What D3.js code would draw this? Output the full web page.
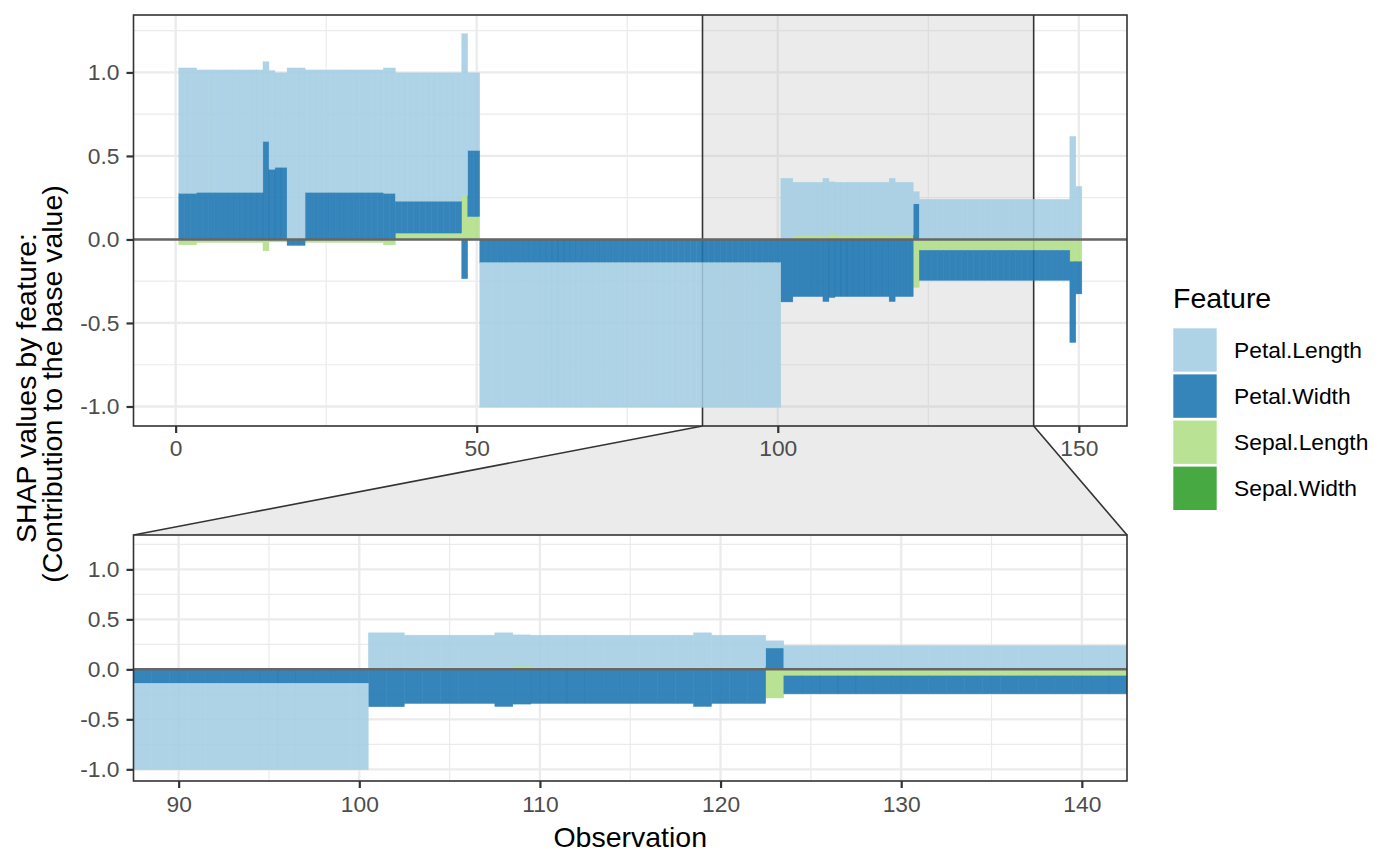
<!DOCTYPE html>
<html><head><meta charset="utf-8">
<script src="https://cdn.jsdelivr.net/npm/d3@7"></script>
<style>
body{margin:0;background:#fff}
text{font-family:"Liberation Sans",Arial,Helvetica,sans-serif}
</style>
</head><body>
<svg id="chart" width="1400" height="866" xmlns="http://www.w3.org/2000/svg"></svg>
<script>
// ---------------- DATA ----------------
const features = ["Petal.Length","Petal.Width","Sepal.Length","Sepal.Width"];
const featureColors = ["#A6CEE3","#1F78B4","#B2DF8A","#33A02C"];
const observationIds = d3.range(1, 151);

const petalLength = [
  0.751,0.751,0.751,0.733,0.733,0.733,0.733,0.733,0.733,0.733,
  0.733,0.733,0.733,0.733,0.477,0.591,0.566,0.566,1.027,1.027,
  1.027,0.733,0.733,0.733,0.733,0.733,0.733,0.733,0.733,0.733,
  0.733,0.733,0.733,0.733,0.751,0.751,0.769,0.769,0.769,0.769,
  0.769,0.769,0.769,0.769,0.769,0.769,0.769,0.969,0.465,0.465,
  -0.866,-0.866,-0.866,-0.866,-0.866,-0.866,-0.866,-0.866,-0.866,-0.866,
  -0.866,-0.866,-0.866,-0.866,-0.866,-0.866,-0.866,-0.866,-0.866,-0.866,
  -0.866,-0.866,-0.866,-0.866,-0.866,-0.866,-0.866,-0.866,-0.866,-0.866,
  -0.866,-0.866,-0.866,-0.866,-0.866,-0.866,-0.866,-0.866,-0.866,-0.866,
  -0.866,-0.866,-0.866,-0.866,-0.866,-0.866,-0.866,-0.866,-0.866,-0.866,
  0.366,0.366,0.316,0.316,0.316,0.316,0.316,0.346,0.312,0.316,
  0.316,0.316,0.316,0.316,0.316,0.316,0.316,0.316,0.346,0.316,
  0.316,0.316,0.073,0.240,0.240,0.240,0.240,0.240,0.240,0.240,
  0.240,0.240,0.240,0.240,0.240,0.240,0.240,0.240,0.240,0.240,
  0.240,0.240,0.240,0.240,0.240,0.240,0.240,0.240,0.617,0.318
];
const petalWidth = [
  0.276,0.276,0.276,0.282,0.282,0.282,0.282,0.282,0.282,0.282,
  0.282,0.282,0.282,0.282,0.587,0.420,0.432,0.432,-0.032,-0.032,
  -0.032,0.282,0.282,0.282,0.282,0.282,0.282,0.282,0.282,0.282,
  0.282,0.282,0.282,0.282,0.276,0.276,0.191,0.191,0.191,0.191,
  0.191,0.191,0.191,0.191,0.191,0.191,0.191,-0.235,0.396,0.396,
  -0.137,-0.137,-0.137,-0.137,-0.137,-0.137,-0.137,-0.137,-0.137,-0.137,
  -0.137,-0.137,-0.137,-0.137,-0.137,-0.137,-0.137,-0.137,-0.137,-0.137,
  -0.137,-0.137,-0.137,-0.137,-0.137,-0.137,-0.137,-0.137,-0.137,-0.137,
  -0.137,-0.137,-0.137,-0.137,-0.137,-0.137,-0.137,-0.137,-0.137,-0.137,
  -0.137,-0.137,-0.137,-0.137,-0.137,-0.137,-0.137,-0.137,-0.137,-0.137,
  -0.372,-0.372,-0.342,-0.342,-0.342,-0.342,-0.342,-0.372,-0.348,-0.342,
  -0.342,-0.342,-0.342,-0.342,-0.342,-0.342,-0.342,-0.342,-0.372,-0.342,
  -0.342,-0.342,0.213,-0.180,-0.180,-0.180,-0.180,-0.180,-0.180,-0.180,
  -0.180,-0.180,-0.180,-0.180,-0.180,-0.180,-0.180,-0.180,-0.180,-0.180,
  -0.180,-0.180,-0.180,-0.180,-0.180,-0.180,-0.180,-0.180,-0.484,-0.193
];
const sepalLength = [
  -0.032,-0.032,-0.032,-0.018,-0.018,-0.018,-0.018,-0.018,-0.018,-0.018,
  -0.018,-0.018,-0.018,-0.018,-0.068,-0.015,-0.015,-0.015,-0.004,-0.004,
  -0.004,-0.018,-0.018,-0.018,-0.018,-0.018,-0.018,-0.018,-0.018,-0.018,
  -0.018,-0.018,-0.018,-0.018,-0.032,-0.032,0.038,0.038,0.038,0.038,
  0.038,0.038,0.038,0.038,0.038,0.038,0.038,0.263,0.137,0.137,
  -0.002,-0.002,-0.002,-0.002,-0.002,-0.002,-0.002,-0.002,-0.002,-0.002,
  -0.002,-0.002,-0.002,-0.002,-0.002,-0.002,-0.002,-0.002,-0.002,-0.002,
  -0.002,-0.002,-0.002,-0.002,-0.002,-0.002,-0.002,-0.002,-0.002,-0.002,
  -0.002,-0.002,-0.002,-0.002,-0.002,-0.002,-0.002,-0.002,-0.002,-0.002,
  -0.002,-0.002,-0.002,-0.002,-0.002,-0.002,-0.002,-0.002,-0.002,-0.002,
  -0.002,-0.002,0.026,0.026,0.026,0.026,0.026,0.020,0.033,0.026,
  0.026,0.026,0.026,0.026,0.026,0.026,0.026,0.026,0.020,0.026,
  0.026,0.026,-0.287,-0.065,-0.065,-0.065,-0.065,-0.065,-0.065,-0.065,
  -0.065,-0.065,-0.065,-0.065,-0.065,-0.065,-0.065,-0.065,-0.065,-0.065,
  -0.065,-0.065,-0.065,-0.065,-0.065,-0.065,-0.065,-0.065,-0.133,-0.133
];
const sepalWidth = [
  0,0,0,0,0,0,0,0,0,0, 0,0,0,0,0,0,0,0,0,0, 0,0,0,0,0,0,0,0,0,0,
  0,0,0,0,0,0,0,0,0,0, 0,0,0,0,0,0,0,0,0,0, 0,0,0,0,0,0,0,0,0,0,
  0,0,0,0,0,0,0,0,0,0, 0,0,0,0,0,0,0,0,0,0, 0,0,0,0,0,0,0,0,0,0,
  0,0,0,0,0,0,0,0,0,0, 0,0,0,0,0,0,0,0,0,0, 0,0,0,0,0,0,0,0,0,0,
  0,0,0,0,0,0,0,0,0,0, 0,0,0,0,0,0,0,0,0,0, 0,0,0,0,0,0,0,0,0,0
];

const topXTicks = [0, 50, 100, 150];
const topXMinor = [25, 75, 125];
const zoomXTicks = [90, 100, 110, 120, 130, 140];
const zoomXMinor = [95, 105, 115, 125, 135];
const yTicks = [-1.0, -0.5, 0.0, 0.5, 1.0];
const yMinor = [-0.75, -0.25, 0.25, 0.75, 1.25];
const zoomRange = [87.5, 142.5];

const xTitle = "Observation";
const yTitleLines = ["SHAP values by feature:", " (Contribution to the base value)"];
const legendTitle = "Feature";

// ---------------- BUILD ----------------
const seriesValues = {"Petal.Length": petalLength, "Petal.Width": petalWidth,
                      "Sepal.Length": sepalLength, "Sepal.Width": sepalWidth};
const rows = observationIds.map((id, i) => {
  const r = {id};
  features.forEach(f => r[f] = seriesValues[f][i]);
  return r;
});
const color = d3.scaleOrdinal().domain(features).range(featureColors);
// ggplot position_stack: first factor level farthest from zero
const stackKeys = features.slice().reverse();
const stacked = d3.stack().keys(stackKeys).offset(d3.stackOffsetDiverging)(rows);

const svg = d3.select("#chart");
const FONT_TICK = 22.8, FONT_TITLE = 28.5;
const GRID = "#ebebeb", DARK = "#333333";

const L = 133.5, R = 1127;
const topP = {x0: L, x1: R, y0: 15, y1: 426};
const botP = {x0: L, x1: R, y0: 535, y1: 781};

const allVals = [];
stacked.forEach(s => s.forEach(d => { allVals.push(d[0], d[1]); }));
const yMin = d3.min(allVals), yMax = d3.max(allVals);
const yPad = (yMax - yMin) * 0.05;
const yDomain = [yMin - yPad, yMax + yPad];
const xPad = (150.5 - 0.5) * 0.05;

const xTop = d3.scaleLinear().domain([0.5 - xPad, 150.5 + xPad]).range([topP.x0, topP.x1]);
const yTop = d3.scaleLinear().domain(yDomain).range([topP.y1, topP.y0]);
const xBot = d3.scaleLinear().domain(zoomRange).range([botP.x0, botP.x1]);
const yBot = d3.scaleLinear().domain(yDomain).range([botP.y1, botP.y0]);

const shadeFill = "#bebebe", shadeOpacity = 0.3;

// trapezoid between panels
const zx0 = xTop(zoomRange[0]), zx1 = xTop(zoomRange[1]);
svg.append("polygon")
  .attr("points", [[zx0, topP.y1], [zx1, topP.y1], [botP.x1, botP.y0], [botP.x0, botP.y0]].map(p => p.join(",")).join(" "))
  .attr("fill", shadeFill).attr("fill-opacity", shadeOpacity);
svg.append("line").attr("x1", zx0).attr("y1", topP.y1).attr("x2", botP.x0).attr("y2", botP.y0)
  .attr("stroke", DARK).attr("stroke-width", 1.6);
svg.append("line").attr("x1", zx1).attr("y1", topP.y1).attr("x2", botP.x1).attr("y2", botP.y0)
  .attr("stroke", DARK).attr("stroke-width", 1.6);

function drawPanel(P, x, y, xTicks, xMinor, clipId, isTop) {
  const g = svg.append("g");
  g.append("defs").append("clipPath").attr("id", clipId)
    .append("rect").attr("x", P.x0).attr("y", P.y0).attr("width", P.x1 - P.x0).attr("height", P.y1 - P.y0);
  const pg = g.append("g").attr("clip-path", `url(#${clipId})`);
  pg.append("rect").attr("x", P.x0).attr("y", P.y0).attr("width", P.x1 - P.x0).attr("height", P.y1 - P.y0).attr("fill", "#fff");
  // grid
  pg.selectAll(".ymin").data(yMinor).join("line").attr("x1", P.x0).attr("x2", P.x1)
    .attr("y1", d => y(d)).attr("y2", d => y(d)).attr("stroke", GRID).attr("stroke-width", 1.2);
  pg.selectAll(".xmin").data(xMinor).join("line").attr("y1", P.y0).attr("y2", P.y1)
    .attr("x1", d => x(d)).attr("x2", d => x(d)).attr("stroke", GRID).attr("stroke-width", 1.2);
  pg.selectAll(".ymaj").data(yTicks).join("line").attr("x1", P.x0).attr("x2", P.x1)
    .attr("y1", d => y(d)).attr("y2", d => y(d)).attr("stroke", GRID).attr("stroke-width", 2.3);
  pg.selectAll(".xmaj").data(xTicks).join("line").attr("y1", P.y0).attr("y2", P.y1)
    .attr("x1", d => x(d)).attr("x2", d => x(d)).attr("stroke", GRID).attr("stroke-width", 2.3);
  if (isTop) {
    pg.append("rect").attr("x", zx0).attr("y", P.y0).attr("width", zx1 - zx0).attr("height", P.y1 - P.y0)
      .attr("fill", shadeFill).attr("fill-opacity", shadeOpacity);
    [zx0, zx1].forEach(xx => pg.append("line").attr("x1", xx).attr("x2", xx).attr("y1", P.y0).attr("y2", P.y1)
      .attr("stroke", DARK).attr("stroke-width", 1.6));
  }
  // bars
  stacked.forEach(s => {
    const c = color(s.key);
    pg.append("g").selectAll("rect").data(s.filter(d => d[1] - d[0] !== 0)).join("rect")
      .attr("x", d => x(d.data.id - 0.5))
      .attr("width", d => x(d.data.id + 0.5) - x(d.data.id - 0.5))
      .attr("y", d => y(Math.max(d[0], d[1])))
      .attr("height", d => Math.abs(y(d[0]) - y(d[1])))
      .attr("fill", c).attr("fill-opacity", 0.9)
      .attr("stroke", c).attr("stroke-opacity", 0.6).attr("stroke-width", 0.5);
  });
  // zero line
  pg.append("line").attr("x1", P.x0).attr("x2", P.x1).attr("y1", y(0)).attr("y2", y(0))
    .attr("stroke", "#666666").attr("stroke-width", 2.5);
  // border
  g.append("rect").attr("x", P.x0).attr("y", P.y0).attr("width", P.x1 - P.x0).attr("height", P.y1 - P.y0)
    .attr("fill", "none").attr("stroke", DARK).attr("stroke-width", 1.6);
  // axes
  const ax = g.append("g").attr("transform", `translate(0,${P.y1})`)
    .call(d3.axisBottom(x).tickValues(xTicks).tickFormat(d => String(d)).tickSize(7).tickPadding(isTop ? 7 : 8));
  const ay = g.append("g").attr("transform", `translate(${P.x0},0)`)
    .call(d3.axisLeft(y).tickValues(yTicks).tickFormat(d => d.toFixed(1)).tickSize(7).tickPadding(7));
  [ax, ay].forEach(a => {
    a.select(".domain").remove();
    a.selectAll(".tick line").attr("stroke", DARK).attr("stroke-width", 2.2);
    a.selectAll(".tick text").attr("fill", "#4d4d4d").style("font-size", FONT_TICK + "px")
      .style("font-family", '"Liberation Sans",Arial,sans-serif');
  });
}

drawPanel(topP, xTop, yTop, topXTicks, topXMinor, "clipTop", true);
drawPanel(botP, xBot, yBot, zoomXTicks, zoomXMinor, "clipBot", false);

// titles
svg.append("text").attr("x", (L + R) / 2).attr("y", 846.5).attr("text-anchor", "middle")
  .style("font-size", FONT_TITLE + "px").attr("fill", "#000").text(xTitle);
const yTitleCY = 388;
yTitleLines.forEach((t, i) => {
  svg.append("text").attr("transform", `translate(${35.5 + i * 26},${yTitleCY}) rotate(-90)`)
    .attr("text-anchor", "middle").style("white-space", "pre")
    .style("font-size", FONT_TITLE + "px").attr("fill", "#000").text(t);
});

// legend
const lg = svg.append("g");
lg.append("text").attr("x", 1173).attr("y", 308).style("font-size", FONT_TITLE + "px").attr("fill", "#000").text(legendTitle);
features.forEach((f, i) => {
  const ky = 328.3 + i * 46.1;
  lg.append("rect").attr("x", 1173.3).attr("y", ky).attr("width", 43.4).attr("height", 43.4)
    .attr("fill", color(f)).attr("fill-opacity", 0.9);
  lg.append("text").attr("x", 1234).attr("y", ky + 21.7).attr("dy", "0.35em")
    .style("font-size", FONT_TICK + "px").attr("fill", "#000").text(f);
});
</script>
</body></html>
